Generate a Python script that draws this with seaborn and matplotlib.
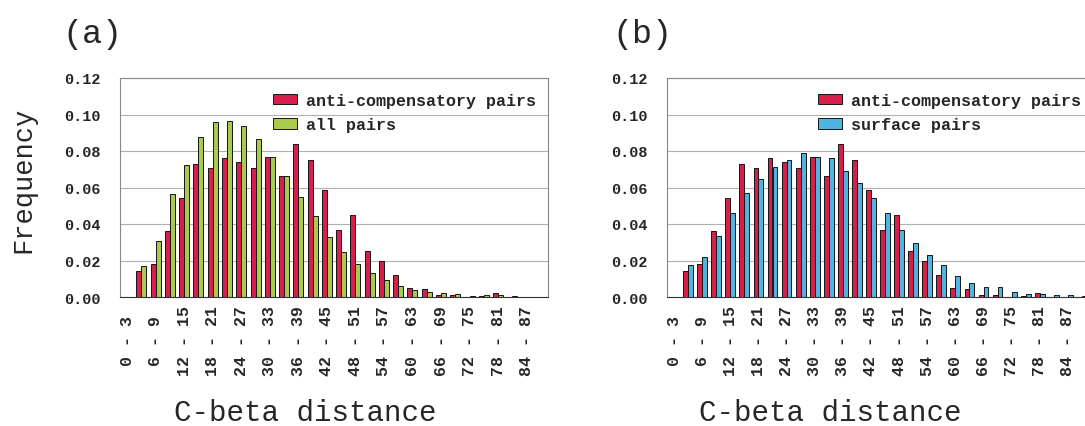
import numpy as np
import pandas as pd
import matplotlib
matplotlib.use("Agg")
import matplotlib.pyplot as plt
from matplotlib.ticker import FormatStrFormatter
import seaborn as sns

# ---------------- data ----------------
bin_starts = list(range(0, 90, 3))
bin_labels = [f"{s} - {s + 3}" for s in bin_starts]

anti_compensatory = [0.0, 0.0142, 0.0180, 0.0360, 0.0540, 0.0728, 0.0709, 0.0761,
                     0.0742, 0.0709, 0.0767, 0.0663, 0.0841, 0.0750, 0.0589, 0.0368,
                     0.0451, 0.0250, 0.0200, 0.0120, 0.0052, 0.0043, 0.0010, 0.0010,
                     0.0, 0.0005, 0.0022, 0.0, 0.0, 0.0]
all_pairs = [0.0, 0.0169, 0.0309, 0.0564, 0.0722, 0.0878, 0.0960, 0.0964,
             0.0938, 0.0867, 0.0765, 0.0662, 0.0549, 0.0445, 0.0327, 0.0249,
             0.0182, 0.0131, 0.0091, 0.0062, 0.0038, 0.0030, 0.0020, 0.0017,
             0.0008, 0.0010, 0.0010, 0.0003, 0.0, 0.0]
surface_pairs = [0.0, 0.0173, 0.0218, 0.0336, 0.0460, 0.0569, 0.0645, 0.0711,
                 0.0749, 0.0787, 0.0769, 0.0764, 0.0691, 0.0624, 0.0540, 0.0460,
                 0.0369, 0.0296, 0.0231, 0.0178, 0.0117, 0.0077, 0.0057, 0.0053,
                 0.0030, 0.0017, 0.0015, 0.0011, 0.0011, 0.0005]

series_a = ["anti-compensatory pairs", "all pairs"]
series_b = ["anti-compensatory pairs", "surface pairs"]
colors_a = ["#d81f4c", "#a9ca4c"]
colors_b = ["#d81f4c", "#4fb4e0"]

y_ticks = [0.00, 0.02, 0.04, 0.06, 0.08, 0.10, 0.12]

# ---------------- style ----------------
sns.set_style("white")
MONO = ["Liberation Mono", "DejaVu Sans Mono"]
plt.rcParams["font.family"] = MONO

W, H = 1085, 427
fig = plt.figure(figsize=(W / 100, H / 100), dpi=100)


def px_axes(left, right, top, bottom):
    return fig.add_axes([left / W, 1 - bottom / H, (right - left) / W, (bottom - top) / H])


def draw_panel(ax, names, vals, colors, leg_xy):
    df = pd.DataFrame({
        "bin": bin_labels * 2,
        "freq": list(vals[0]) + list(vals[1]),
        "series": [names[0]] * len(bin_labels) + [names[1]] * len(bin_labels),
    })
    sns.barplot(data=df, x="bin", y="freq", hue="series", order=bin_labels,
                hue_order=names, palette=colors, width=0.7, saturation=1,
                edgecolor="#151515", linewidth=0.7, ax=ax)
    ax.set_xlim(-0.5, len(bin_labels) - 0.5)
    ax.set_ylim(0, 0.12)
    ax.set_yticks(y_ticks)
    ax.yaxis.set_major_formatter(FormatStrFormatter("%.2f"))
    ax.yaxis.grid(True, color="#b0b0b0", lw=0.8)
    ax.set_axisbelow(True)
    ax.set_xlabel("")
    ax.set_ylabel("")
    ax.set_xticks(range(len(bin_labels)))
    ax.set_xticklabels([lab if i % 2 == 0 else "" for i, lab in enumerate(bin_labels)],
                       rotation=90, ha="center", va="center",
                       fontsize=12, fontweight="bold")
    ax.tick_params(axis="x", length=0, pad=31)
    ax.tick_params(axis="y", length=0, pad=14, labelsize=11)
    for t in ax.get_yticklabels():
        t.set_fontweight("bold")
    for s in ax.spines.values():
        s.set_visible(True)
        s.set_color("#888888")
        s.set_linewidth(0.8)
    ax.spines["bottom"].set_color("#333333")
    handles, labels = ax.get_legend_handles_labels()
    ax.legend(handles, labels, loc="upper left",
              bbox_to_anchor=(leg_xy[0] / W, 1 - leg_xy[1] / H),
              bbox_transform=fig.transFigure, frameon=False, borderpad=0,
              borderaxespad=0, handlelength=1.45, handleheight=0.6,
              handletextpad=0.55, labelspacing=0.55,
              prop={"family": MONO, "weight": "bold", "size": 12})


ax_a = px_axes(120, 548, 79, 298)
draw_panel(ax_a, series_a, [anti_compensatory, all_pairs], colors_a, (273, 94))
ax_b = px_axes(667, 1089, 79, 298)
draw_panel(ax_b, series_b, [anti_compensatory, surface_pairs], colors_b, (818, 94))

fig.text(62 / W, 1 - 35 / H, "(a)", fontsize=24, ha="left", va="center")
fig.text(612 / W, 1 - 35 / H, "(b)", fontsize=24, ha="left", va="center")
fig.text(23 / W, 1 - 180 / H, "Frequency", fontsize=19.5, rotation=90,
         ha="center", va="center")
fig.text(305 / W, 1 - 413 / H, "C-beta distance", fontsize=21, ha="center", va="center")
fig.text(830 / W, 1 - 413 / H, "C-beta distance", fontsize=21, ha="center", va="center")

fig.savefig("out.png", dpi=100)
